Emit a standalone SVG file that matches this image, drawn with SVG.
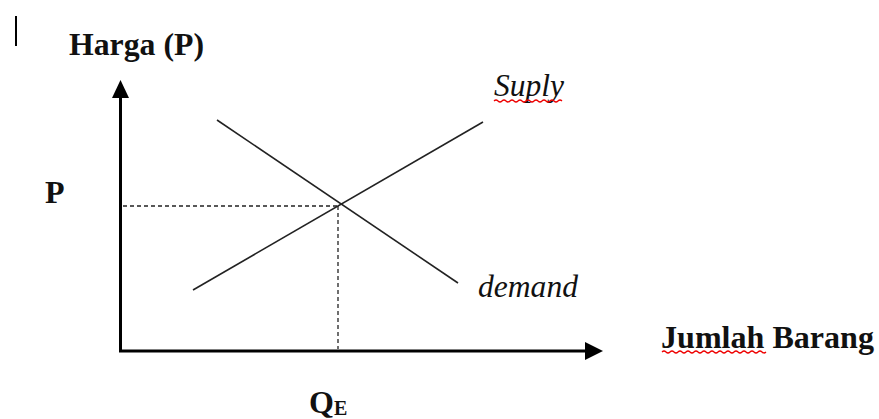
<svg xmlns="http://www.w3.org/2000/svg" width="879" height="419" viewBox="0 0 879 419">
<style>
.lbl{font-family:"Liberation Serif","Times New Roman",serif;fill:#111}
.b{font-weight:bold;font-size:32px}
.i{font-style:italic;font-size:31px}
.axis{stroke:#000;stroke-width:3;fill:none}
.curve{stroke:#222;stroke-width:1.6;fill:none}
.dash{stroke:#222;stroke-width:1.3;stroke-dasharray:4,3;fill:none}
.squig{stroke:#e00;stroke-width:1.2;fill:none}
</style>
<line x1="16" y1="16" x2="16" y2="46" stroke="#000" stroke-width="2"/>
<g id="axes">
<polyline class="axis" points="120.5,351 120.5,97"/>
<path d="M112,98 L120.5,80 L129,98 z" fill="#000"/>
<polyline class="axis" points="119,351 586,351"/>
<path d="M585,342 L603,351 L585,360 z" fill="#000"/>
</g>
<g id="connectors">
<line id="supply" class="curve" x1="193" y1="290" x2="483" y2="122"/>
<line id="demand" class="curve" x1="217" y1="120" x2="458" y2="283"/>
<line class="dash" x1="123" y1="206" x2="338" y2="206"/>
<line class="dash" x1="338" y1="206" x2="338" y2="349"/>
</g>
<g id="label-harga"><text class="lbl b" x="69" y="55" textLength="135" lengthAdjust="spacingAndGlyphs">Harga (P)</text></g>
<g id="label-suply"><text class="lbl i" x="494" y="96" textLength="70" lengthAdjust="spacingAndGlyphs">Suply</text>
<path class="squig" d="M494,101 q2,-2 4,0 t4,0 t4,0 t4,0 t4,0 t4,0 t4,0 t4,0 t4,0 t4,0 t4,0 t4,0 t4,0 t4,0 t4,0 t4,0 t4,0"/></g>
<g id="label-demand"><text class="lbl i" x="478" y="297" textLength="100" lengthAdjust="spacingAndGlyphs">demand</text></g>
<g id="label-jumlah"><text class="lbl b" x="661" y="348" textLength="213" lengthAdjust="spacingAndGlyphs">Jumlah Barang</text>
<path class="squig" d="M662,352 q2,-2 4,0 t4,0 t4,0 t4,0 t4,0 t4,0 t4,0 t4,0 t4,0 t4,0 t4,0 t4,0 t4,0 t4,0 t4,0 t4,0 t4,0 t4,0 t4,0 t4,0 t4,0 t4,0 t4,0 t4,0 t4,0 t4,0"/></g>
<g id="label-p"><text class="lbl b" x="45" y="203">P</text></g>
<g id="label-qe"><text class="lbl b" x="309" y="413">Q<tspan font-size="20" dy="2">E</tspan></text></g>
</svg>
